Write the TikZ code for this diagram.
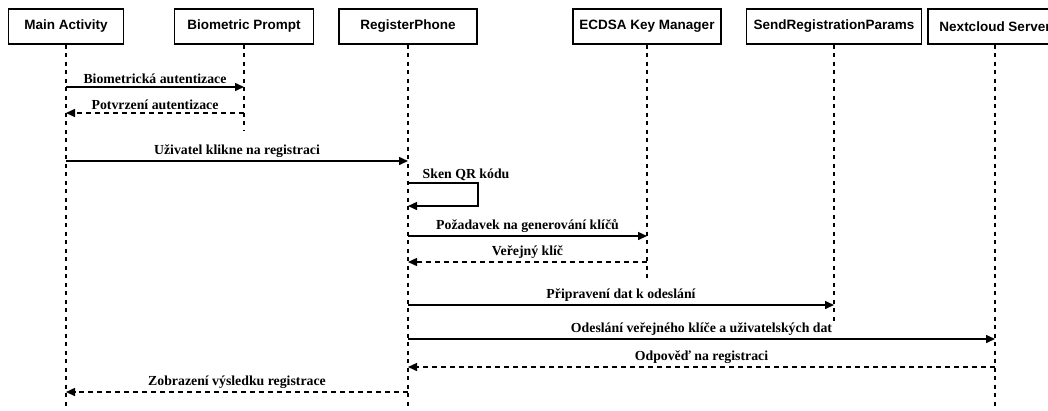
\documentclass[tikz,border=0pt]{standalone}
\usepackage{fontspec}
\setmainfont{Liberation Serif}
\newfontfamily\actorfont{Liberation Sans}
\usetikzlibrary{arrows.meta}

\begin{document}
\begin{tikzpicture}[x=1pt, y=-1pt]
\tikzstyle{actor}=[draw, line width=1.4pt, minimum height=35pt, inner sep=0pt, font=\actorfont\bfseries\fontsize{13.5}{15}\selectfont]
\tikzstyle{lifeline}=[line width=1.3pt, dash pattern=on 4pt off 4.5pt]
\tikzstyle{msg}=[line width=1.5pt, -{Triangle[length=9pt, width=8pt]}]
\tikzstyle{reply}=[msg, dash pattern=on 5pt off 4pt]
\tikzstyle{lbl}=[above, inner sep=2.5pt, font=\bfseries\fontsize{13.8}{15}\selectfont]
\clip (0,0) rectangle (1048,410);

\node[actor, minimum width=115] (main) at (66,26.5) {Main Activity};
\node[actor, minimum width=139] (bio) at (244,26.5) {Biometric Prompt};
\node[actor, minimum width=138] (rp) at (408,26.5) {RegisterPhone};
\node[actor, minimum width=148] (ecdsa) at (647,26.5) {ECDSA Key Manager};
\node[actor, minimum width=175] (send) at (834,26.5) {SendRegistrationParams};
\node[actor, minimum width=134] (cloud) at (995,26.5) {Nextcloud Server};

\coordinate (mainEnd) at (66,410);
\coordinate (bioEnd) at (244,130);
\coordinate (rpEnd) at (408,410);
\coordinate (ecdsaEnd) at (647,280);
\coordinate (sendEnd) at (834,322);
\coordinate (cloudEnd) at (995,410);

\path[lifeline]
(main.south) edge (mainEnd)
(bio.south) edge (bioEnd)
(rp.south) edge (rpEnd)
(ecdsa.south) edge (ecdsaEnd)
(send.south) edge (sendEnd)
(cloud.south) edge (cloudEnd);

\path
(main |- 0,87) edge[msg] node[lbl] {Biometrická autentizace} (bio |- 0,87)
(bio |- 0,113) edge[reply] node[lbl] {Potvrzení autentizace} (main |- 0,113)
(main |- 0,161) edge[msg] node[lbl] {Uživatel klikne na registraci} (rp |- 0,161)
(rp |- 0,236) edge[msg] node[lbl] {Požadavek na generování klíčů} (ecdsa |- 0,236)
(ecdsa |- 0,262) edge[reply] node[lbl] {Veřejný klíč} (rp |- 0,262)
(rp |- 0,305) edge[msg] node[lbl] {Připravení dat k odeslání} (send |- 0,305)
(rp |- 0,339) edge[msg] node[lbl] {Odeslání veřejného klíče a uživatelských dat} (cloud |- 0,339)
(cloud |- 0,367) edge[reply] node[lbl] {Odpověď na registraci} (rp |- 0,367)
(rp |- 0,392) edge[reply] node[lbl] {Zobrazení výsledku registrace} (main |- 0,392);

% self call
\draw[msg] (rp |- 0,183) -- ++(70,0) |- (rp |- 0,206);
\node[lbl, anchor=south west] (scan) at ([xshift=12pt]rp |- 0,183) {Sken QR kódu};

\end{tikzpicture}
\end{document}
